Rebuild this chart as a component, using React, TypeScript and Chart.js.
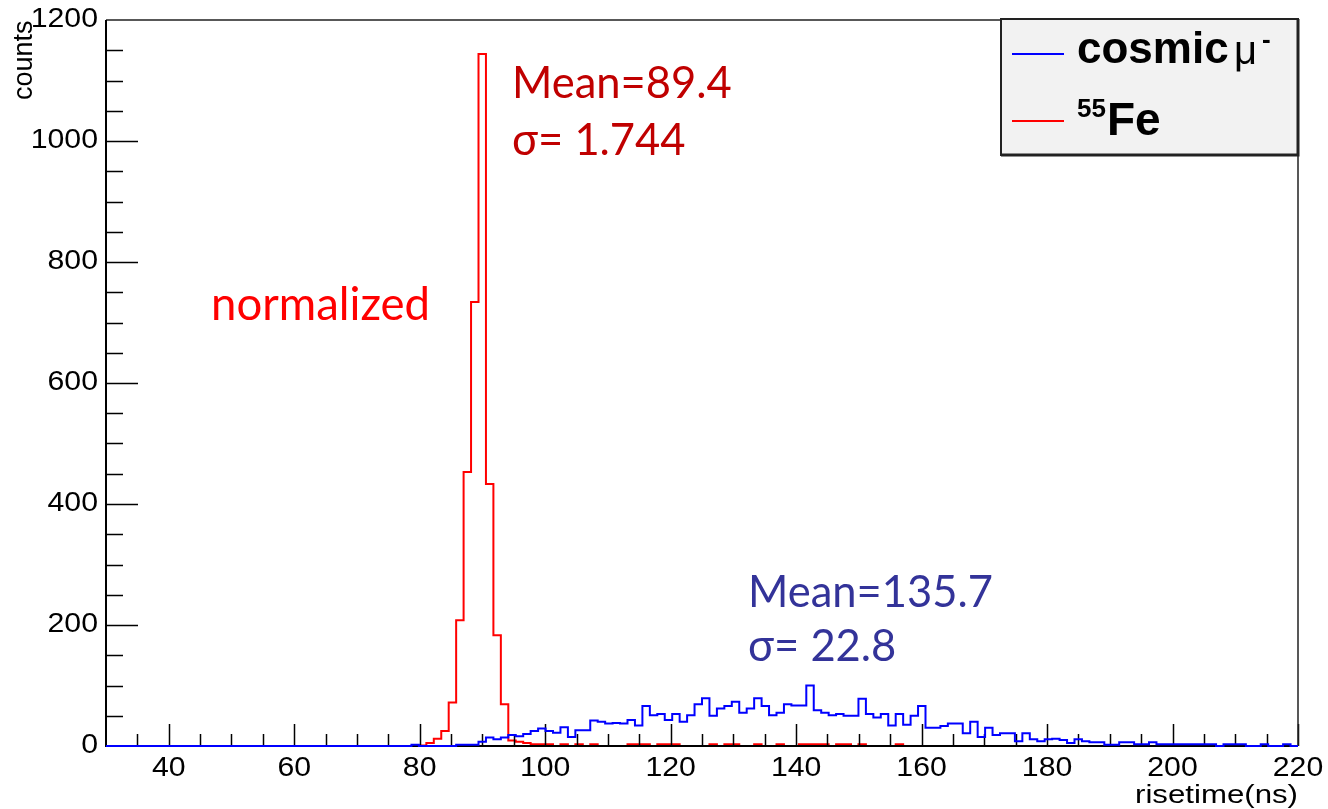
import React, { useEffect, useRef } from "react";
import { Chart, registerables } from "chart.js";

Chart.register(...registerables);

// ---- axis ranges & ticks ----
const X_MIN = 30;
const X_MAX = 220;
const Y_MIN = 0;
const Y_MAX = 1200;
const xTickLabels = [40, 60, 80, 100, 120, 140, 160, 180, 200, 220];
const yTickLabels = [0, 200, 400, 600, 800, 1000, 1200];
const X_MINOR_STEP = 5;
const Y_MINOR_STEP = 50;

// ---- histogram binning: 160 bins over 30–220 ns ----
const BIN_START = 30;
const BIN_WIDTH = 1.1875;

// cosmic muon rise-time histogram (counts per bin, bin 0 .. 159)
const cosmicCounts = [
  0, 0, 0, 0, 0, 0, 0, 0, 0, 0, 0, 0, 0, 0, 0, 0, 0, 0, 0, 0,
  0, 0, 0, 0, 0, 0, 0, 0, 0, 0, 0, 0, 0, 0, 0, 0, 0, 0, 0, 0,
  0, 2, 0, 0, 0, 0, 0, 2, 2, 2, 7, 14, 11, 14, 18, 16, 20, 25, 29, 25,
  22, 31, 15, 26, 26, 42, 40, 37, 38, 37, 43, 34, 66, 51, 53, 43, 53, 40, 51, 69,
  79, 50, 62, 66, 73, 55, 62, 79, 66, 51, 55, 69, 67, 67, 100, 59, 55, 51, 53, 50,
  50, 78, 53, 47, 53, 34, 53, 35, 50, 66, 30, 30, 33, 37, 37, 21, 40, 15, 30, 18,
  21, 21, 8, 21, 11, 8, 11, 12, 10, 5, 11, 8, 6, 6, 2, 2, 6, 6, 3, 3,
  6, 3, 3, 3, 3, 3, 3, 3, 3, 0, 3, 3, 3, 0, 0, 3, 0, 0, 3, 0,
];

// 55Fe rise-time histogram, normalized (counts per bin, bin 0 .. 159)
const feCounts = [
  0, 0, 0, 0, 0, 0, 0, 0, 0, 0, 0, 0, 0, 0, 0, 0, 0, 0, 0, 0,
  0, 0, 0, 0, 0, 0, 0, 0, 0, 0, 0, 0, 0, 0, 0, 0, 0, 0, 0, 0,
  0, 0, 1, 5, 12, 25, 72, 208, 453, 734, 1144, 433, 183, 69, 9, 7, 5, 3, 3, 3,
  0, 3, 0, 3, 0, 3, 0, 0, 0, 0, 3, 3, 3, 0, 3, 3, 3, 0, 0, 0,
  0, 3, 0, 3, 3, 0, 0, 3, 0, 0, 3, 0, 0, 3, 3, 3, 3, 0, 3, 3,
  0, 3, 0, 0, 0, 0, 3, 0, 0, 0, 0, 0, 0, 0, 0, 0, 0, 0, 0, 0,
  0, 0, 0, 0, 0, 0, 0, 0, 0, 0, 0, 0, 0, 0, 0, 0, 0, 0, 0, 0,
  0, 0, 0, 0, 0, 0, 0, 0, 0, 0, 0, 0, 0, 0, 0, 0, 0, 0, 0, 0,
];

const cosmicStats = ["Mean=135.7", "σ= 22.8"];
const feStats = ["Mean=89.4", "σ= 1.744"];
const normLabel = "normalized";
const xTitle = "risetime(ns)";
const yTitle = "counts";

function toSteps(counts: number[]) {
  const pts = counts.map((c, i) => ({ x: BIN_START + i * BIN_WIDTH, y: c }));
  pts.push({ x: BIN_START + counts.length * BIN_WIDTH, y: counts[counts.length - 1] });
  return pts;
}

function drawText(
  ctx: CanvasRenderingContext2D,
  text: string,
  x: number,
  y: number,
  font: string,
  color: string,
  align: CanvasTextAlign,
  baseline: CanvasTextBaseline,
  sx = 1
) {
  ctx.save();
  ctx.font = font;
  ctx.fillStyle = color;
  ctx.textAlign = align;
  ctx.textBaseline = baseline;
  ctx.translate(x, y);
  ctx.scale(sx, 1);
  ctx.fillText(text, 0, 0);
  ctx.restore();
}

const TICK_FONT = '27px "Liberation Sans", Arial, sans-serif';
const NOTE_FONT = '43.5px Lato, "Open Sans", sans-serif';

const rootStyle = {
  id: "rootStyle",
  afterDatasetDraw(chart: any, args: any) {
    // frame & ticks drawn after the red histogram, before the blue one
    if (args.index !== 1) return;
    const ctx: CanvasRenderingContext2D = chart.ctx;
    const { left, right, top, bottom } = chart.chartArea;
    const xs = chart.scales.x;
    const ys = chart.scales.y;
    ctx.save();
    ctx.strokeStyle = "#000";
    ctx.lineWidth = 1.5;
    ctx.beginPath();
    for (let v = X_MIN + X_MINOR_STEP; v <= X_MAX + 1e-6; v += X_MINOR_STEP) {
      const px = Math.round(xs.getPixelForValue(v)) + 0.5;
      const major = xTickLabels.includes(v);
      ctx.moveTo(px, bottom);
      ctx.lineTo(px, bottom - (major ? 22 : 12));
    }
    for (let v = Y_MIN + Y_MINOR_STEP; v < Y_MAX; v += Y_MINOR_STEP) {
      const py = Math.round(ys.getPixelForValue(v)) + 0.5;
      const major = yTickLabels.includes(v);
      ctx.moveTo(left, py);
      ctx.lineTo(left + (major ? 32 : 17), py);
    }
    ctx.stroke();
    ctx.strokeStyle = "#222";
    ctx.lineWidth = 1.5;
    ctx.beginPath();
    ctx.moveTo(left, top);
    ctx.lineTo(right, top);
    ctx.lineTo(right, bottom);
    ctx.stroke();
    ctx.strokeStyle = "#000";
    ctx.lineWidth = 2;
    ctx.beginPath();
    ctx.moveTo(left, top);
    ctx.lineTo(left, bottom);
    ctx.lineTo(right, bottom);
    ctx.stroke();
    ctx.restore();
  },
  afterDraw(chart: any) {
    const ctx: CanvasRenderingContext2D = chart.ctx;
    const { left, right, bottom } = chart.chartArea;
    const xs = chart.scales.x;
    const ys = chart.scales.y;

    xTickLabels.forEach((v) => {
      drawText(ctx, String(v), xs.getPixelForValue(v), bottom + 23, TICK_FONT, "#000", "center", "middle", 1.12);
    });
    yTickLabels.forEach((v) => {
      drawText(ctx, String(v), left - 8, ys.getPixelForValue(v), TICK_FONT, "#000", "right", "middle", 1.12);
    });

    drawText(ctx, xTitle, right, bottom + 50, '26px "Liberation Sans", Arial, sans-serif', "#000", "right", "middle", 1.2);
    ctx.save();
    ctx.translate(32, 100);
    ctx.rotate(-Math.PI / 2);
    ctx.font = '27px "Liberation Sans", Arial, sans-serif';
    ctx.fillStyle = "#000";
    ctx.textAlign = "left";
    ctx.textBaseline = "alphabetic";
    ctx.fillText(yTitle, 0, 0);
    ctx.restore();

    // legend box
    const lx = 1001, ly = 19, lw = right - 1001, lh = 136;
    ctx.save();
    ctx.fillStyle = "#f2f2f2";
    ctx.fillRect(lx, ly, lw, lh);
    ctx.strokeStyle = "#222";
    ctx.lineWidth = 2;
    ctx.strokeRect(lx, ly, lw, lh);
    ctx.lineWidth = 3;
    ctx.beginPath();
    ctx.moveTo(lx, ly + lh);
    ctx.lineTo(lx + lw, ly + lh);
    ctx.lineTo(lx + lw, ly);
    ctx.stroke();
    ctx.lineWidth = 2;
    ctx.strokeStyle = "#0000ff";
    ctx.beginPath();
    ctx.moveTo(1012, 54);
    ctx.lineTo(1064, 54);
    ctx.stroke();
    ctx.strokeStyle = "#ff0000";
    ctx.beginPath();
    ctx.moveTo(1012, 121);
    ctx.lineTo(1064, 121);
    ctx.stroke();
    ctx.restore();
    drawText(ctx, "cosmic", 1077, 63, 'bold 44px "Liberation Sans", Arial, sans-serif', "#000", "left", "alphabetic");
    drawText(ctx, "μ", 1234, 64, '40px "Liberation Sans", Arial, sans-serif', "#000", "left", "alphabetic");
    drawText(ctx, "-", 1262, 48, 'bold 26px "Liberation Sans", Arial, sans-serif', "#000", "left", "alphabetic");
    drawText(ctx, "55", 1077, 117, 'bold 26px "Liberation Sans", Arial, sans-serif', "#000", "left", "alphabetic");
    drawText(ctx, "Fe", 1107, 135, 'bold 46px "Liberation Sans", Arial, sans-serif', "#000", "left", "alphabetic");

    drawText(ctx, feStats[0], 512, 98, NOTE_FONT, "#c00000", "left", "alphabetic");
    drawText(ctx, feStats[1], 512, 155, NOTE_FONT, "#c00000", "left", "alphabetic");
    drawText(ctx, normLabel, 211, 320, '45.5px Lato, "Open Sans", sans-serif', "#ff0000", "left", "alphabetic");
    drawText(ctx, cosmicStats[0], 748, 607, NOTE_FONT, "#333399", "left", "alphabetic");
    drawText(ctx, cosmicStats[1], 748, 661, NOTE_FONT, "#333399", "left", "alphabetic");
  },
};

export default function App() {
  const canvasRef = useRef<HTMLCanvasElement | null>(null);

  useEffect(() => {
    if (!canvasRef.current) return;
    const chart = new Chart(canvasRef.current, {
      type: "line",
      data: {
        datasets: [
          {
            label: "cosmic μ-",
            data: toSteps(cosmicCounts),
            borderColor: "#0000ff",
            backgroundColor: "#0000ff",
            borderWidth: 2,
            stepped: "before",
            pointRadius: 0,
            fill: false,
            clip: 6,
          },
          {
            label: "55Fe",
            data: toSteps(feCounts),
            borderColor: "#ff0000",
            backgroundColor: "#ff0000",
            borderWidth: 2,
            stepped: "before",
            pointRadius: 0,
            fill: false,
            clip: 6,
          },
        ],
      },
      options: {
        animation: false,
        responsive: false,
        devicePixelRatio: 1,
        events: [],
        layout: { padding: { left: 106, top: 20, right: 30, bottom: 63 } },
        scales: {
          x: { type: "linear", min: X_MIN, max: X_MAX, display: false },
          y: { type: "linear", min: Y_MIN, max: Y_MAX, display: false },
        },
        plugins: { legend: { display: false }, tooltip: { enabled: false } },
      },
      plugins: [rootStyle],
    } as any);
    return () => chart.destroy();
  }, []);

  return (
    <div style={{ position: "fixed", left: 0, top: 0, width: 1328, height: 809, background: "#fff" }}>
      <canvas ref={canvasRef} width={1328} height={809} style={{ display: "block" }} />
    </div>
  );
}
